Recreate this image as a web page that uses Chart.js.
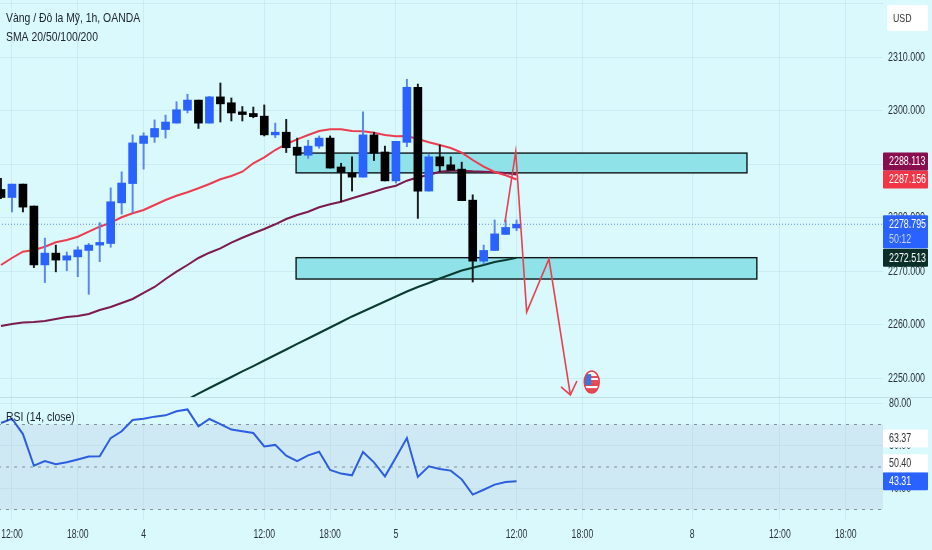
<!DOCTYPE html>
<html><head><meta charset="utf-8">
<style>html,body{margin:0;padding:0;background:#d9f9fc}canvas{display:block}</style>
<script src="https://cdn.jsdelivr.net/npm/chart.js@4/dist/chart.umd.min.js"></script>
</head><body><canvas id="c" width="932" height="550" style="width:932px;height:550px"></canvas>
<script>
const FONT='"Liberation Sans",sans-serif';
const titleLines=['Vàng / Đô la Mỹ, 1h, OANDA','SMA 20/50/100/200'];
const rsiTitle='RSI (14, close)';
const unit='USD';
const xTickIdx=[1,7,13,24,30,36,47,53,63,71,77];
const xTickLabels=['12:00','18:00','4','12:00','18:00','5','12:00','18:00','8','12:00','18:00'];
const priceTicks=[2250,2260,2270,2280,2290,2300,2310,2320];
const rsiTicks=[40,60,80];
const rsiLevels=[70,50,30];
const open=[2285.3,2283.8,2286.3,2282.2,2271.2,2273.4,2272.1,2272.7,2273.9,2274.9,2275.2,2282.8,2286.4,2293.9,2295.1,2296.5,2297.7,2300.1,2302.0,2297.7,2302.6,2301.5,2299.8,2299.5,2299.0,2295.5,2296.0,2293.2,2291.7,2293.4,2294.9,2289.5,2288.4,2287.6,2295.5,2292.3,2286.9,2294.1,2304.4,2285.0,2291.4,2289.9,2289.1,2283.3,2271.9,2273.9,2276.9,2278.1];
const high=[2287.4,2286.3,2286.3,2282.2,2276.2,2274.9,2273.6,2274.6,2275.2,2279.1,2285.6,2288.6,2295.5,2295.9,2298.3,2299.2,2301.7,2303.1,2302.0,2302.7,2305.2,2302.4,2300.8,2300.7,2301.1,2297.7,2298.4,2294.9,2294.5,2295.3,2295.3,2290.2,2291.4,2299.8,2296.0,2293.4,2294.3,2305.9,2305.0,2291.9,2293.6,2291.4,2290.4,2284.3,2274.9,2279.6,2279.6,2279.6];
const low=[2283.6,2281.1,2281.1,2270.7,2267.9,2269.9,2270.1,2269.0,2265.7,2271.8,2274.5,2280.7,2281.0,2289.1,2294.1,2294.9,2297.7,2299.6,2296.7,2297.7,2297.9,2298.1,2298.1,2298.7,2295.3,2295.0,2292.2,2291.7,2291.1,2293.0,2289.3,2283.0,2285.0,2287.6,2290.7,2286.9,2286.5,2293.3,2279.9,2285.0,2288.6,2288.9,2283.2,2268.0,2271.4,2273.9,2276.9,2277.6];
const close=[2283.8,2286.3,2282.0,2271.2,2273.4,2272.1,2272.9,2274.0,2274.9,2275.4,2283.0,2286.5,2294.0,2295.3,2296.7,2297.9,2300.2,2302.0,2297.7,2302.6,2301.3,2299.6,2299.3,2298.9,2295.5,2296.0,2293.1,2291.7,2293.4,2294.9,2289.3,2288.5,2287.6,2295.5,2292.1,2286.9,2294.3,2304.4,2285.0,2291.4,2289.7,2288.9,2283.2,2271.9,2273.9,2277.0,2278.2,2278.8];
const sma20=[2271.18,2272.49,2273.67,2273.98,2274.6,2275.42,2275.85,2276.47,2277.41,2278.34,2279.09,2280.1,2280.84,2281.46,2282.4,2283.33,2284.13,2284.77,2285.52,2286.32,2287.2,2287.82,2288.62,2290.19,2291.31,2292.67,2293.8,2294.67,2295.48,2296.23,2296.54,2296.54,2296.23,2296.17,2295.91,2295.48,2295.24,2295.29,2294.73,2294.11,2293.61,2293.05,2292.17,2290.81,2289.55,2288.56,2287.95,2287.16];
const sma50=[2259.78,2260.15,2260.43,2260.53,2260.72,2261.09,2261.46,2261.65,2262.02,2262.77,2263.33,2264.08,2264.83,2265.95,2267.07,2268.56,2269.93,2271.18,2272.49,2273.48,2274.3,2275.35,2276.28,2277.11,2277.91,2278.79,2279.78,2280.53,2281.14,2281.97,2282.53,2283.01,2283.65,2284.26,2284.88,2285.52,2286.0,2286.94,2287.57,2288.0,2288.62,2288.81,2288.81,2288.69,2288.62,2288.51,2288.38,2288.11];
const sma200Start=17;
const sma200=[2246.04,2247.16,2248.19,2249.22,2250.25,2251.28,2252.3,2253.33,2254.36,2255.39,2256.42,2257.44,2258.47,2259.5,2260.53,2261.56,2262.49,2263.42,2264.36,2265.29,2266.23,2267.07,2267.82,2268.66,2269.41,2270.15,2270.68,2271.18,2271.74,2272.1,2272.51];
const rsi=[70.7,72.7,65.5,50.6,52.8,51.3,52.2,53.5,54.9,55.0,63.6,66.8,72.1,72.7,73.7,74.3,76.2,77.1,69.1,72.6,70.2,67.6,66.8,66.0,59.7,60.4,55.3,52.8,55.5,57.2,48.6,46.9,46.1,57.1,52.2,45.6,54.5,63.6,45.3,50.3,49.1,48.3,44.2,37.0,39.3,41.7,42.9,43.3];
const arrowIdx=[45.94,46.92,47.92,49.95,51.9];
const arrowPrice=[2279.2,2292.36,2262.4,2272.3,2246.9];
const headIdx=[51.05,51.9,52.5];
const headPrice=[2248.4,2246.9,2249.5];
const zoneStart=[26.9,26.9];
const zoneEnd=[68.0,68.9];
const zoneTop=[2292.1,2272.55];
const zoneBottom=[2288.4,2268.56];
const flagIdx=53.85, flagPrice=2249.3;
const lastPrice=2278.795;
const priceTags=[
 {value:2288.113,text:['2288.113'],bg:'#880e4f',fg:'#fff'},
 {value:2287.156,text:['2287.156'],bg:'#f23645',fg:'#fff'},
 {value:2278.795,text:['2278.795','50:12'],bg:'#2962ff',fg:'#fff'},
 {value:2272.513,text:['2272.513'],bg:'#0b2f28',fg:'#fff'}];
const rsiTags=[
 {value:63.37,text:['63.37'],bg:'#ffffff',fg:'#333'},
 {value:50.40,text:['50.40'],bg:'#ffffff',fg:'#333'},
 {value:43.31,text:['43.31'],bg:'#2962ff',fg:'#fff'}];

const idx=open.map((_,i)=>i);
const pts=(xs,ys)=>ys.map((y,i)=>({x:xs[i],y}));
const barColors=open.map((o,i)=>close[i]>=o?'#2962ff':'#000000');
const wickColors=open.map((o,i)=>close[i]>=o?'#5a86f2':'#1a1a1a');
const line=(data,color,width,extra)=>Object.assign({type:'line',data,borderColor:color,borderWidth:width,pointRadius:0,tension:0,yAxisID:'y',order:5},extra||{});

const panePlugin={id:'pane',
 beforeDatasetsDraw(ch){
  const c=ch.ctx,x=ch.scales.x,y=ch.scales.y,r=ch.scales.yRsi,a=ch.chartArea;
  c.save();
  c.fillStyle='rgba(177,186,215,.25)';
  c.fillRect(a.left,r.getPixelForValue(rsiLevels[0]),a.right-a.left,r.getPixelForValue(rsiLevels[2])-r.getPixelForValue(rsiLevels[0]));
  c.strokeStyle='#c2dde4';c.lineWidth=1;
  c.beginPath();c.moveTo(0,y.bottom+.5);c.lineTo(ch.width,y.bottom+.5);c.stroke();
  zoneStart.forEach((s,i)=>{
   const l=x.getPixelForValue(s),rr=x.getPixelForValue(zoneEnd[i]),t=y.getPixelForValue(zoneTop[i]),b=y.getPixelForValue(zoneBottom[i]);
   c.fillStyle='#8fe2e8';c.fillRect(l,t,rr-l,b-t);
   c.strokeStyle='#10181a';c.lineWidth=1.4;c.strokeRect(l,t,rr-l,b-t);
  });
  c.restore();
 },
 afterDraw(ch){
  const c=ch.ctx,x=ch.scales.x,y=ch.scales.y,r=ch.scales.yRsi;
  c.save();
  const txt=(s,tx,ty,size,col,sx,align)=>{c.save();c.translate(tx,ty);c.scale(sx,1);c.font=size+'px '+FONT;c.fillStyle=col;c.textAlign=align||'left';c.textBaseline='middle';c.fillText(s,0,0);c.restore();};
  // axis labels
  x.ticks.forEach((t,i)=>txt(xTickLabels[i],x.getPixelForValue(t.value),535,12,'#2b3138',.72,'center'));
  y.ticks.forEach(t=>{if(t.value<2320)txt(t.value.toFixed(3),888,y.getPixelForValue(t.value),12,'#2b3138',.74);});
  r.ticks.forEach(t=>txt(t.value.toFixed(2),889,r.getPixelForValue(t.value),12,'#2b3138',.74));
  // event flag
  const fx=x.getPixelForValue(flagIdx),fy=y.getPixelForValue(flagPrice);
  c.beginPath();c.ellipse(fx,fy,7.5,11,0,0,Math.PI*2);c.fillStyle='#fff';c.fill();
  c.save();c.clip();
  c.fillStyle='#e5484f';c.fillRect(fx-8,fy,16,4);c.fillRect(fx-8,fy+6,16,6);
  c.fillStyle='#ffffff';c.fillRect(fx-8,fy+4,16,2);
  c.fillStyle='#e5484f';c.fillRect(fx-2,fy-6,9,2);c.fillRect(fx-2,fy-2,9,2);
  c.fillStyle='#3f74d8';c.fillRect(fx-7,fy-8,6.5,11);
  c.restore();
  c.beginPath();c.ellipse(fx,fy,7.5,11,0,0,Math.PI*2);c.strokeStyle='#e5404c';c.lineWidth=1.5;c.stroke();
  // title texts
  txt(titleLines[0],6,18.5,13,'#20262e',.8);
  txt(titleLines[1],6,37,13,'#20262e',.8);
  txt(rsiTitle,6,417,13,'#20262e',.8);
  // unit box
  c.fillStyle='#ffffff';c.beginPath();c.roundRect(887,5,41,26,2);c.fill();
  txt(unit,893,18.5,11,'#333',.8);
  // price tags
  const tags=(list,scale)=>{
   const items=list.map(t=>({t,y:scale.getPixelForValue(t.value)})).sort((p,q)=>q.y-p.y);
   let prevTop=Infinity;
   items.forEach(o=>{
    const h=o.t.text.length>1?33:18;
    let top=o.y-9;
    if(top+h>prevTop) top=prevTop-h;
    prevTop=top;
    c.fillStyle=o.t.bg;c.beginPath();c.roundRect(883,top,45,h,1);c.fill();
    o.t.text.forEach((s,k)=>txt(s,889,top+9.5+k*15,12,k?'#c9d6ff':o.t.fg,.74));
   });
  };
  tags(priceTags,y);tags(rsiTags,r);
  c.restore();
 }};

new Chart(document.getElementById('c'),{
 data:{datasets:[
  line(pts(arrowIdx,arrowPrice),'#e8404f',1.6,{order:0}),
  line(pts(headIdx,headPrice),'#e8404f',1.6,{order:0}),
  {type:'bar',data:pts(idx,open.map((o,i)=>[o,close[i]])),backgroundColor:barColors,barThickness:8,grouped:false,yAxisID:'y',order:1},
  {type:'bar',data:pts(idx,low.map((l,i)=>[l,high[i]])),backgroundColor:wickColors,barThickness:1.3,grouped:false,yAxisID:'y',order:2},
  line(pts(idx,sma20),'#ec3d50',2,{order:3}),
  line(pts(idx,sma50),'#7d1a4e',2,{order:3}),
  line(pts(sma200.map((_,i)=>i+sma200Start),sma200),'#0b3a30',2,{order:3}),
  line([{x:-1,y:lastPrice},{x:81,y:lastPrice}],'#5f8df0',1,{borderDash:[1,2],order:4}),
  line(pts(idx,rsi),'#2d5ee0',2,{yAxisID:'yRsi',order:1}),
  ...rsiLevels.map(v=>line([{x:-1,y:v},{x:81,y:v}],'rgba(110,120,128,.8)',1,{yAxisID:'yRsi',borderDash:[3,5],order:3}))
 ]},
 options:{
  responsive:false,animation:false,devicePixelRatio:1,
  layout:{padding:0},
  plugins:{legend:{display:false},tooltip:{enabled:false},title:{display:false}},
  scales:{
   x:{type:'linear',min:-0.09,max:80.4,position:'bottom',offset:false,
    border:{display:false},
    grid:{color:'rgba(160,205,215,.25)',drawTicks:false,offset:false},
    afterBuildTicks(s){s.ticks=xTickIdx.map(v=>({value:v}));},
    afterFit(s){s.height=30;},
    ticks:{display:false,autoSkip:false,callback:(v,i)=>xTickLabels[i]}},
   y:{type:'linear',position:'right',stack:'panes',stackWeight:397,min:2246.51,max:2320.71,
    border:{display:false},
    grid:{color:'rgba(160,205,215,.25)',drawTicks:false},
    afterBuildTicks(s){s.ticks=priceTicks.map(v=>({value:v}));},
    afterFit(s){s.width=49;},
    ticks:{display:false,autoSkip:false}},
   yRsi:{type:'linear',axis:'y',position:'right',stack:'panes',stackWeight:123,min:25.06,max:82.94,
    border:{display:false},
    grid:{color:'rgba(160,205,215,.25)',drawTicks:false},
    afterBuildTicks(s){s.ticks=rsiTicks.map(v=>({value:v}));},
    afterFit(s){s.width=49;},
    ticks:{display:false,autoSkip:false}}
  }
 },
 plugins:[panePlugin]
});
</script></body></html>
